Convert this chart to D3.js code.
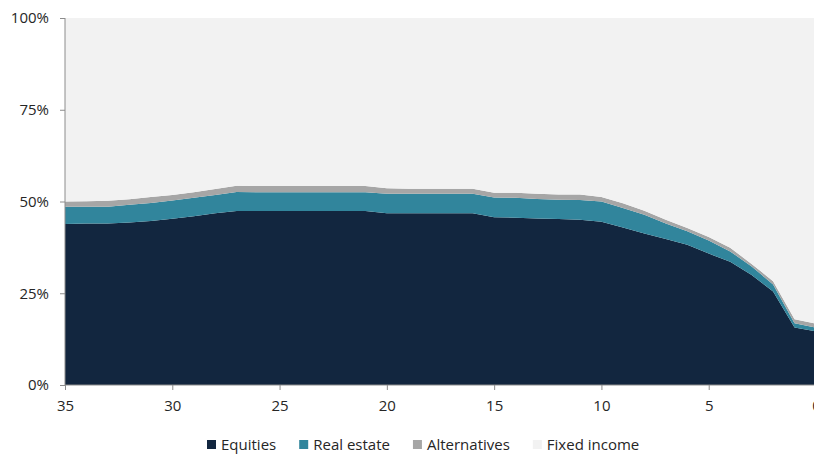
<!DOCTYPE html>
<html>
<head>
<meta charset="utf-8">
<script src="https://cdn.jsdelivr.net/npm/d3@7"></script>
<style>
  html, body { margin: 0; padding: 0; background: #ffffff; }
  svg { display: block; }
  text { font-family: "Open Sans", "Noto Sans", sans-serif; fill: #262626; }
</style>
</head>
<body>
<svg id="chart" width="814" height="454"></svg>
<script>
// Years to retirement (x axis, reversed)
const years = [35,34,33,32,31,30,29,28,27,26,25,24,23,22,21,20,19,18,17,16,15,14,13,12,11,10,9,8,7,6,5,4,3,2,1,0];
// Allocation shares (%)
const equities    = [43.9,44.0,44.0,44.3,44.7,45.3,46.0,46.8,47.4,47.4,47.4,47.4,47.4,47.4,47.4,46.8,46.8,46.8,46.8,46.8,45.7,45.6,45.4,45.2,45.0,44.5,42.9,41.3,39.8,38.2,35.8,33.6,30.0,25.5,15.7,14.6];
const realEstate  = [4.7,4.6,4.6,4.8,4.9,5.0,5.0,5.0,5.2,5.1,5.1,5.1,5.1,5.1,5.1,5.3,5.3,5.3,5.3,5.3,5.4,5.4,5.3,5.3,5.4,5.5,5.3,5.1,4.2,3.7,3.6,2.8,2.3,1.9,1.1,1.0];
const alternatives= [1.4,1.5,1.6,1.5,1.6,1.5,1.5,1.6,1.7,1.7,1.7,1.7,1.7,1.7,1.7,1.5,1.4,1.4,1.4,1.4,1.3,1.4,1.4,1.4,1.5,1.2,1.3,1.1,1.0,0.9,0.9,1.0,0.7,0.9,1.1,1.1];
const fixedIncome = years.map((_, i) => +(100 - equities[i] - realEstate[i] - alternatives[i]).toFixed(1));

const seriesNames = ["Equities", "Real estate", "Alternatives", "Fixed income"];
const seriesColors = ["#12263f", "#31859c", "#a6a6a6", "#f2f2f2"];
const xTicks = [35,30,25,20,15,10,5,0];
const yTicks = [0, 0.25, 0.5, 0.75, 1];

const rows = years.map((y, i) => ({
  year: y,
  "Equities": equities[i] / 100,
  "Real estate": realEstate[i] / 100,
  "Alternatives": alternatives[i] / 100,
  "Fixed income": fixedIncome[i] / 100
}));

const svg = d3.select("#chart");
const x = d3.scaleLinear().domain([35, 0]).range([65, 816]);
const y = d3.scaleLinear().domain([0, 1]).range([385, 18]);
const color = d3.scaleOrdinal().domain(seriesNames).range(seriesColors);

const stack = d3.stack().keys(seriesNames);
const layers = stack(rows);

const area = d3.area()
  .x(d => x(d.data.year))
  .y0(d => y(d[0]))
  .y1(d => y(d[1]))
  .curve(d3.curveLinear);

svg.append("g").selectAll("path")
  .data(layers)
  .join("path")
  .attr("d", area)
  .attr("fill", d => color(d.key));

const axisColor = "#8c8c8c";
const fs = 15;

// Y axis
const yAxis = d3.axisLeft(y).tickValues(yTicks).tickFormat(d3.format(".0%")).tickSize(5).tickPadding(11);
const gy = svg.append("g").attr("transform", "translate(65,0)").call(yAxis);
gy.select(".domain").attr("stroke", axisColor).attr("d", `M0,${y(1)}V${y(0)}`);
gy.selectAll(".tick line").attr("stroke", axisColor);
gy.selectAll(".tick text").attr("font-size", fs).style("fill", "#262626")
  .attr("font-family", "'Open Sans', sans-serif");

// X axis
const xAxis = d3.axisBottom(x).tickValues(xTicks).tickFormat(d3.format("d")).tickSize(5).tickPadding(10);
const gx = svg.append("g").attr("transform", `translate(0,${y(0)})`).call(xAxis);
gx.select(".domain").attr("stroke", axisColor).attr("d", `M${x(35)},0H${x(0)}`);
gx.selectAll(".tick line").attr("stroke", axisColor);
gx.selectAll(".tick text").attr("font-size", fs).style("fill", "#262626")
  .attr("font-family", "'Open Sans', sans-serif");

// Legend
const legend = svg.append("g").attr("transform", "translate(207,0)");
let lx = 0;
seriesNames.forEach((name) => {
  const g = legend.append("g").attr("transform", `translate(${lx},0)`);
  g.append("rect").attr("x", 0).attr("y", 440).attr("width", 9).attr("height", 9).attr("fill", color(name));
  const t = g.append("text").attr("x", 14).attr("y", 450).attr("font-size", fs).text(name);
  const w = t.node().getComputedTextLength();
  lx += 14 + w + 23;
});
</script>
</body>
</html>
